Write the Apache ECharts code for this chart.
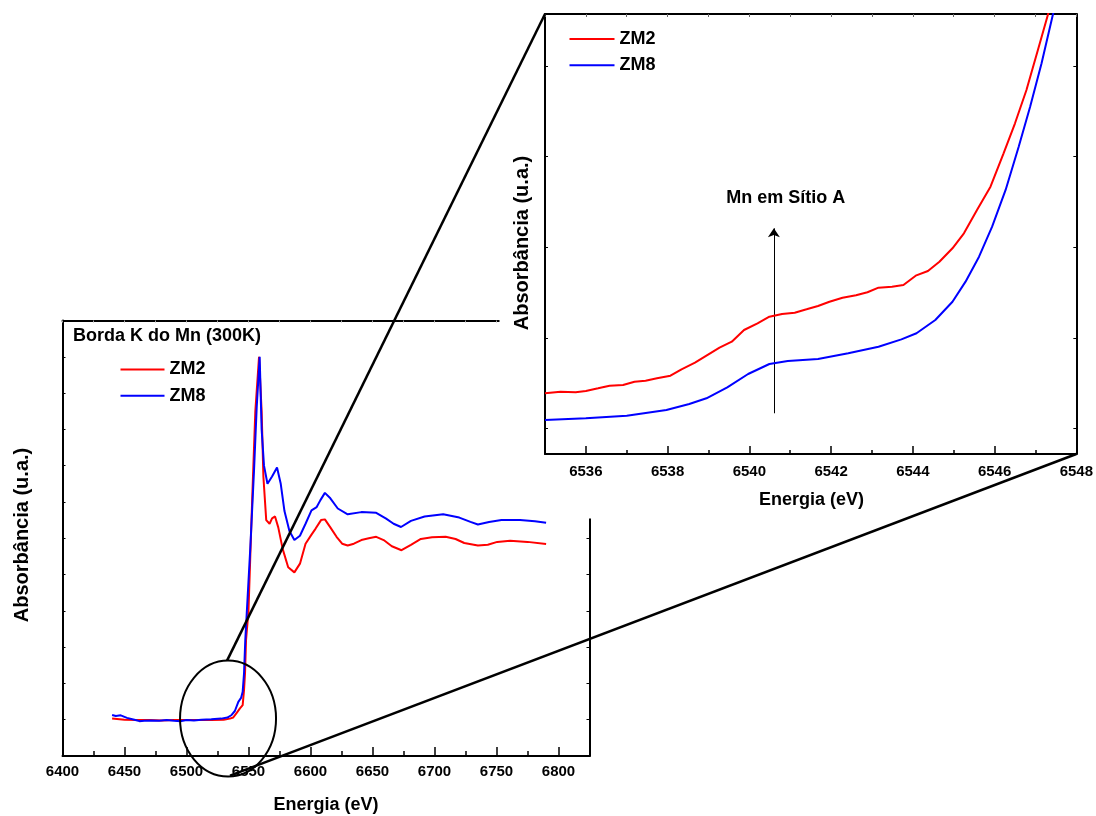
<!DOCTYPE html>
<html>
<head>
<meta charset="utf-8">
<script src="https://cdn.jsdelivr.net/npm/echarts@6/dist/echarts.min.js"></script>
<style>
html,body{margin:0;padding:0;background:#fff;}
#c{width:1096px;height:816px;}
</style>
</head>
<body>
<div id="c"></div>
<script>
// ---------- DATA ----------
// Main panel (Borda K do Mn, 300K), absorbance in arbitrary units
const mainZM2Energy = [6440,6450,6460,6470,6480,6490,6500,6510,6520,6530,6535,6537.7,6540.5,6543.1,6545.3,6546.4,6547.2,6548,6550,6553,6555.5,6558.5,6560.6,6562,6564.3,6567,6569,6571.4,6574,6577.6,6582,6587,6591.5,6596,6600.8,6604,6608.5,6611.6,6616,6621,6625.5,6630,6635,6641,6647,6653,6659,6665.6,6673.4,6681,6689,6698,6709,6717,6724,6735,6743,6750.6,6761,6775,6790];
const mainZM2Abs    = [1.03,1.00,0.99,0.99,0.98,0.99,0.99,0.99,0.99,1.00,1.03,1.06,1.19,1.31,1.40,1.82,2.28,3.19,4.0,7.1,9.5,11.0,9.5,7.7,6.5,6.4,6.55,6.6,6.3,5.7,5.2,5.06,5.3,5.85,6.1,6.26,6.5,6.52,6.3,6.04,5.85,5.8,5.85,5.95,6.0,6.04,5.95,5.78,5.67,5.82,5.98,6.03,6.04,5.98,5.87,5.8,5.82,5.9,5.93,5.9,5.84];

const mainZM8Energy = [6440,6443,6447,6452,6458,6462,6466,6472,6478,6484,6490,6495,6500,6506,6512,6520,6528,6533,6536.4,6539,6541.8,6544,6545.3,6546.4,6547.4,6551.4,6554.5,6556.6,6559,6560.6,6562.5,6565.3,6569,6573,6576,6579,6583,6587,6591.5,6596,6600.8,6605,6608,6611.6,6616,6622,6630,6641,6653,6661,6667,6673,6681,6692,6707,6720,6729,6735,6744,6754,6769,6781,6790];
const mainZM8Abs    = [1.13,1.10,1.12,1.05,1.00,0.96,0.97,0.98,0.97,0.99,0.97,0.96,0.99,0.98,1.00,1.01,1.03,1.06,1.13,1.24,1.49,1.60,1.77,2.28,3.19,5.7,7.9,9.6,11.0,9.0,8.0,7.5,7.7,7.95,7.5,6.75,6.2,5.95,6.07,6.4,6.77,6.86,7.05,7.25,7.1,6.82,6.66,6.72,6.7,6.54,6.4,6.31,6.48,6.6,6.66,6.57,6.45,6.38,6.45,6.5,6.5,6.47,6.43];

// Inset (pre-edge zoom)
const insetZM2Energy = [6535.0,6535.38,6535.75,6536.0,6536.3,6536.58,6536.91,6537.19,6537.46,6537.74,6538.07,6538.34,6538.67,6538.95,6539.27,6539.57,6539.87,6540.2,6540.49,6540.8,6541.11,6541.4,6541.68,6541.96,6542.28,6542.61,6542.89,6543.16,6543.49,6543.77,6544.07,6544.37,6544.65,6544.97,6545.25,6545.57,6545.9,6546.22,6546.5,6546.78,6547.06,6547.31,6547.6];
const insetZM2Abs    = [0.669,0.687,0.68,0.695,0.724,0.753,0.76,0.797,0.808,0.834,0.863,0.934,1.007,1.084,1.172,1.238,1.367,1.441,1.514,1.544,1.558,1.595,1.632,1.679,1.723,1.75,1.783,1.834,1.845,1.863,1.966,2.018,2.12,2.268,2.433,2.69,2.947,3.315,3.646,4.013,4.454,4.851,5.3];

const insetZM8Energy = [6535.0,6536.0,6537.0,6537.97,6538.53,6538.95,6539.46,6539.97,6540.49,6540.94,6541.68,6542.42,6543.16,6543.72,6544.09,6544.55,6544.97,6545.29,6545.62,6545.94,6546.27,6546.59,6546.87,6547.15,6547.43,6547.7];
const insetZM8Abs    = [0.375,0.393,0.422,0.485,0.551,0.614,0.735,0.882,0.992,1.025,1.047,1.11,1.183,1.264,1.331,1.477,1.679,1.9,2.175,2.506,2.911,3.388,3.829,4.307,4.851,5.3];

// Tick values
const mainXTicks   = [6400,6450,6500,6550,6600,6650,6700,6750,6800];
const mainXMinor   = [6425,6475,6525,6575,6625,6675,6725,6775];
const insetXTicks  = [6536,6538,6540,6542,6544,6546,6548];
const insetXMinor  = [6537,6539,6541,6543,6545,6547];
const insetYTicks  = [0.28,1.28,2.28,3.28,4.28];

// Arrow annotation ("Mn em Sítio A")
const arrowEnergy = 6540.6;
const arrowFrom = 0.449, arrowTo = 2.488;

// ---------- CHART ----------
const FONT = "'Liberation Sans', Arial, Helvetica, sans-serif";
const RED = '#ff0000', BLUE = '#0000ff';
const zip = (a, b) => a.map((v, i) => [v, b[i]]);
const plain = v => String(v);

const chart = echarts.init(document.getElementById('c'), null, {renderer: 'canvas'});

const lbl = {fontSize: 15, fontWeight: 'bold', color: '#000', fontFamily: FONT, formatter: plain};
const axLine = {onZero: false, lineStyle: {color: '#000', width: 2}};
const legendText = {fontSize: 18, fontWeight: 'bold', color: '#000', fontFamily: FONT, lineHeight: 18};

const option = {
  animation: false,
  backgroundColor: '#fff',
  grid: [
    {left: 62.5, top: 320.5, width: 527, height: 435.5},
    {left: 545, top: 14, width: 533, height: 440}
  ],
  xAxis: [
    // main bottom
    {gridIndex: 0, type: 'value', position: 'bottom', min: 6400, max: 6825, interval: 25,
     axisLine: axLine, splitLine: {show: false},
     axisTick: {inside: true, length: 9, customValues: mainXTicks, lineStyle: {color: '#000', width: 1.5}},
     axisLabel: Object.assign({customValues: mainXTicks, margin: 8}, lbl)},
    // main bottom minor
    {gridIndex: 0, type: 'value', position: 'bottom', min: 6400, max: 6825, interval: 25,
     axisLine: {show: false, onZero: false}, splitLine: {show: false},
     axisTick: {inside: true, length: 5, customValues: mainXMinor, lineStyle: {color: '#000', width: 1.5}},
     axisLabel: {show: false}},
    // main top
    {gridIndex: 0, type: 'value', position: 'top', min: 6400, max: 6825, interval: 25,
     axisLine: axLine, splitLine: {show: false},
     axisTick: {inside: true, length: 2, lineStyle: {color: '#aaa', width: 1}},
     axisLabel: {show: false}},
    // inset bottom
    {gridIndex: 1, type: 'value', position: 'bottom', min: 6535, max: 6548, interval: 1, z: 5,
     axisLine: axLine, splitLine: {show: false},
     axisTick: {inside: true, length: 8, customValues: insetXTicks, lineStyle: {color: '#000', width: 1.5}},
     axisLabel: Object.assign({customValues: insetXTicks, margin: 10}, lbl)},
    // inset bottom minor
    {gridIndex: 1, type: 'value', position: 'bottom', min: 6535, max: 6548, interval: 1, z: 5,
     axisLine: {show: false, onZero: false}, splitLine: {show: false},
     axisTick: {inside: true, length: 4, customValues: insetXMinor, lineStyle: {color: '#000', width: 1.5}},
     axisLabel: {show: false}},
    // inset top
    {gridIndex: 1, type: 'value', position: 'top', min: 6535, max: 6548, interval: 1, z: 5,
     axisLine: axLine, splitLine: {show: false},
     axisTick: {inside: true, length: 3, lineStyle: {color: '#666', width: 1}},
     axisLabel: {show: false}}
  ],
  yAxis: [
    {gridIndex: 0, type: 'value', position: 'left', min: 0, max: 12, interval: 1,
     axisLine: axLine, splitLine: {show: false},
     axisTick: {inside: true, length: 3, lineStyle: {color: '#000', width: 1}},
     axisLabel: {show: false}},
    {gridIndex: 0, type: 'value', position: 'right', min: 0, max: 12, interval: 1,
     axisLine: axLine, splitLine: {show: false},
     axisTick: {inside: true, length: 3, lineStyle: {color: '#000', width: 1}},
     axisLabel: {show: false}},
    {gridIndex: 1, type: 'value', position: 'left', min: 0, max: 4.851, z: 5,
     axisLine: axLine, splitLine: {show: false},
     axisTick: {inside: true, length: 3, customValues: insetYTicks, lineStyle: {color: '#000', width: 1}},
     axisLabel: {show: false}},
    {gridIndex: 1, type: 'value', position: 'right', min: 0, max: 4.851, z: 5,
     axisLine: axLine, splitLine: {show: false},
     axisTick: {inside: true, length: 3, customValues: insetYTicks, lineStyle: {color: '#000', width: 1}},
     axisLabel: {show: false}}
  ],
  legend: [
    {data: ['ZM2', 'ZM8'], orient: 'vertical', left: 120.5, top: 360.5, padding: 0,
     icon: 'rect', itemWidth: 44, itemHeight: 2, itemGap: 8.3, selectedMode: false, z: 4,
     textStyle: legendText},
    {data: ['ZM2', 'ZM8'], orient: 'vertical', left: 569.5, top: 30, padding: 0,
     icon: 'rect', itemWidth: 45, itemHeight: 2, itemGap: 8.3, selectedMode: false, z: 8,
     textStyle: legendText}
  ],
  series: [
    {name: 'ZM2', type: 'line', xAxisIndex: 0, yAxisIndex: 0, z: 2, symbol: 'none', showSymbol: false,
     data: zip(mainZM2Energy, mainZM2Abs), itemStyle: {color: RED}, lineStyle: {color: RED, width: 2}},
    {name: 'ZM8', type: 'line', xAxisIndex: 0, yAxisIndex: 0, z: 2, symbol: 'none', showSymbol: false,
     data: zip(mainZM8Energy, mainZM8Abs), itemStyle: {color: BLUE}, lineStyle: {color: BLUE, width: 2}},
    {name: 'ZM2', type: 'line', xAxisIndex: 3, yAxisIndex: 2, z: 6, symbol: 'none', showSymbol: false,
     data: zip(insetZM2Energy, insetZM2Abs), itemStyle: {color: RED}, lineStyle: {color: RED, width: 2}},
    {name: 'ZM8', type: 'line', xAxisIndex: 3, yAxisIndex: 2, z: 6, symbol: 'none', showSymbol: false,
     data: zip(insetZM8Energy, insetZM8Abs), itemStyle: {color: BLUE}, lineStyle: {color: BLUE, width: 2},
     markLine: {silent: true, symbol: ['none', 'arrow'], symbolSize: 9, label: {show: false},
       lineStyle: {color: '#000', width: 1, type: 'solid'},
       data: [[{coord: [arrowEnergy, arrowFrom]}, {coord: [arrowEnergy, arrowTo]}]]}}
  ]
};
chart.setOption(option);

// Annotations positioned from the axes' own scales
const ellC = chart.convertToPixel({seriesIndex: 0}, [6533.5, 1.03]);
const insetTL = chart.convertToPixel({seriesIndex: 2}, [6535, 4.851]);
const insetBR = chart.convertToPixel({seriesIndex: 2}, [6548, 0]);
const txtP = chart.convertToPixel({seriesIndex: 2}, [6540.89, 2.826]);
const RX = 48, RY = 58;
const boldTxt = (id, x, y, text, size, rot, z) => ({
  id, type: 'text', x, y, rotation: rot || 0, z: z, zlevel: 0, silent: true,
  style: {text, fill: '#000', font: 'bold ' + size + 'px ' + FONT, textAlign: 'center', textVerticalAlign: 'middle'}
});

chart.setOption({
  graphic: [
    {id: 'insetBg', type: 'rect', z: 3, silent: true,
     shape: {x: 499.5, y: 0, width: 597, height: 518.5}, style: {fill: '#fff'}},
    {id: 'title', type: 'text', x: 73, y: 336.5, z: 4, silent: true,
     style: {text: 'Borda K do Mn (300K)', fill: '#000', font: 'bold 18px ' + FONT, textAlign: 'left', textVerticalAlign: 'middle'}},
    boldTxt('mainX', 326, 805, 'Energia (eV)', 18, 0, 4),
    boldTxt('mainY', 22, 535, 'Absorbância (u.a.)', 20, Math.PI / 2, 4),
    boldTxt('insetX', 811.5, 500, 'Energia (eV)', 18, 0, 7),
    boldTxt('insetY', 522.5, 243, 'Absorbância (u.a.)', 20, Math.PI / 2, 7),
    boldTxt('mnA', txtP[0], txtP[1], 'Mn em Sítio A', 18, 0, 7),
    {id: 'ell', type: 'ellipse', z: 10, silent: true,
     shape: {cx: ellC[0], cy: ellC[1], rx: RX, ry: RY},
     style: {fill: 'none', stroke: '#000', lineWidth: 2}},
    {id: 'l1', type: 'line', z: 10, silent: true,
     shape: {x1: ellC[0] - 1, y1: ellC[1] - RY, x2: insetTL[0], y2: insetTL[1]},
     style: {stroke: '#000', lineWidth: 2.5}},
    {id: 'l2', type: 'line', z: 10, silent: true,
     shape: {x1: ellC[0] + 2, y1: ellC[1] + RY - 1, x2: insetBR[0], y2: insetBR[1]},
     style: {stroke: '#000', lineWidth: 2.5}}
  ]
});
</script>
</body>
</html>
